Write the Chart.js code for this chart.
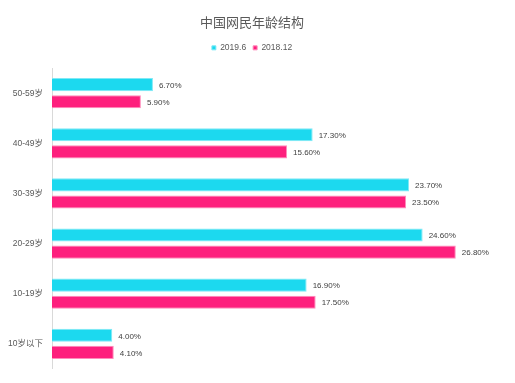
<!DOCTYPE html>
<html lang="zh">
<head>
    <meta charset="UTF-8">
    <title>中国网民年龄结构</title>
    <script src="https://cdn.jsdelivr.net/npm/chart.js"></script>
    <style>
        html, body { margin: 0; padding: 0; background: #fff; }
        #wrap { width: 515px; height: 383px; }
    </style>
</head>
<body>
    <div id="wrap"><canvas id="ageChart"></canvas></div>
    <script>
        // 数据
        const categories = ["50-59岁", "40-49岁", "30-39岁", "20-29岁", "10-19岁", "10岁以下"];
        const seriesNames = ["2019.6", "2018.12"];
        const values2019 = [6.7, 17.3, 23.7, 24.6, 16.9, 4.0];
        const values2018 = [5.9, 15.6, 23.5, 26.8, 17.5, 4.1];

        const FONT = '"Liberation Sans", "Noto Sans CJK SC", sans-serif';
        const CJK = '"Noto Sans CJK SC", sans-serif';

        // 柱子右侧的百分比标签
        const valueLabels = {
            id: "valueLabels",
            afterDatasetsDraw(chart) {
                const ctx = chart.ctx;
                ctx.save();
                ctx.font = "8px " + FONT;
                ctx.fillStyle = "#404040";
                ctx.textAlign = "left";
                ctx.textBaseline = "middle";
                chart.data.datasets.forEach((ds, i) => {
                    chart.getDatasetMeta(i).data.forEach((bar, j) => {
                        ctx.fillText(ds.data[j].toFixed(2) + "%", bar.x + 6, bar.y + 1);
                    });
                });
                ctx.restore();
            }
        };

        const ctx = document.getElementById("ageChart").getContext("2d");
        new Chart(ctx, {
            type: "bar",
            data: {
                labels: categories,
                datasets: [
                    {
                        label: seriesNames[0],
                        data: values2019,
                        backgroundColor: "#1CD9EF",
                        borderColor: "#7FE9F6",
                        borderWidth: 1,
                        borderSkipped: "left",
                        categoryPercentage: 0.68,
                        barPercentage: 0.77
                    },
                    {
                        label: seriesNames[1],
                        data: values2018,
                        backgroundColor: "#FE1F7D",
                        borderColor: "#FF8CBB",
                        borderWidth: 1,
                        borderSkipped: "left",
                        categoryPercentage: 0.68,
                        barPercentage: 0.77
                    }
                ]
            },
            options: {
                indexAxis: "y",
                responsive: true,
                maintainAspectRatio: false,
                animation: false,
                layout: { padding: { left: 0, right: 11, top: 0, bottom: 14 } },
                plugins: {
                    title: {
                        display: true,
                        text: "中国网民年龄结构",
                        color: "#595959",
                        font: { family: CJK, size: 13, weight: "normal" },
                        padding: { top: 14, bottom: 7 }
                    },
                    legend: {
                        display: true,
                        position: "top",
                        labels: {
                            color: "#595959",
                            font: { family: FONT, size: 8.5 },
                            boxWidth: 4,
                            boxHeight: 4,
                            padding: 7
                        }
                    },
                    tooltip: { enabled: false }
                },
                scales: {
                    x: {
                        position: "top",
                        min: 0,
                        max: 30,
                        grid: { display: false, drawTicks: false },
                        border: { display: false },
                        ticks: { display: false },
                        // 图例与绘图区之间留一点空隙
                        afterFit(scale) { scale.height = 6; }
                    },
                    y: {
                        grid: { display: false, drawTicks: false },
                        border: { display: true, color: "#d9d9d9" },
                        ticks: {
                            color: "#595959",
                            font: { family: FONT, size: 8.5 },
                            padding: 9
                        },
                        afterFit(scale) { scale.width = 52; }
                    }
                }
            },
            plugins: [valueLabels]
        });
    </script>
</body>
</html>
